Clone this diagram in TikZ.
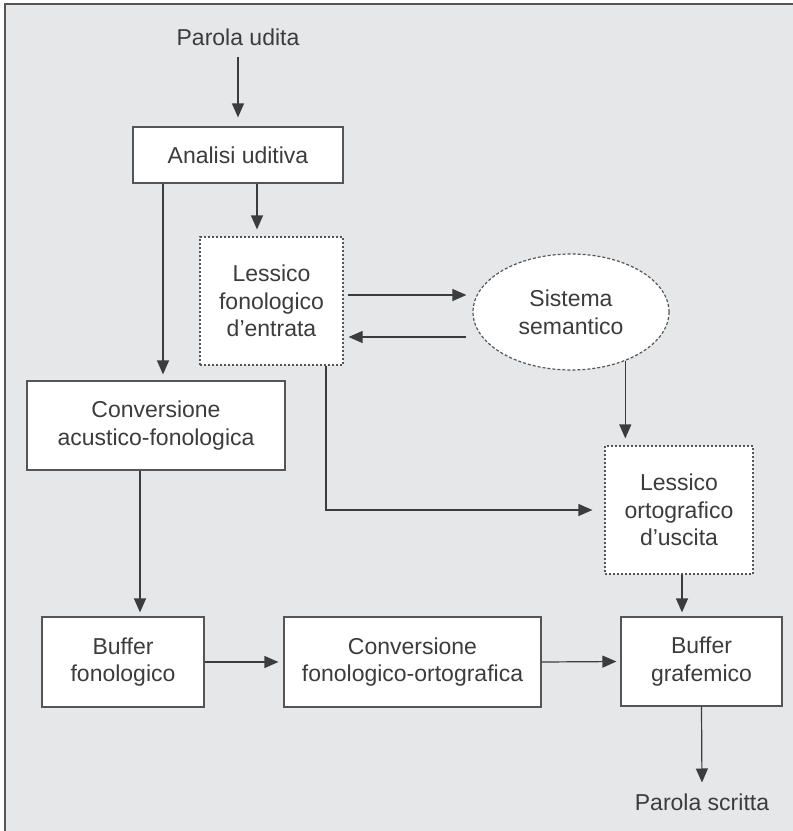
\documentclass[tikz,border=0pt]{standalone}
\usepackage{fontspec}
\setmainfont{Liberation Sans}
\usetikzlibrary{arrows.meta,shapes.geometric}
\definecolor{sfondo}{HTML}{E6E7E9}
\definecolor{testo}{HTML}{3C3C3C}
\definecolor{bordo}{HTML}{555555}
\begin{document}
\begin{tikzpicture}[x=0.5pt,y=-0.5pt,
  font=\fontsize{11.5}{13.8}\selectfont, text=testo,
  blocco/.style={draw=bordo, fill=white, line width=0.6pt, align=center, inner sep=0pt},
  lessico/.style={blocco, draw=bordo, dash pattern=on 1pt off 1pt},
  freccia/.style={draw=testo, line width=0.6pt, -{Triangle[length=7pt,width=6pt]}, shorten >=3pt}]
\useasboundingbox (0,0) rectangle (793,831);
\draw[fill=sfondo, draw=bordo, line width=0.8pt] (5,4) rectangle (796,834);
% nodi
\node (ingresso) at (238,37) {Parola udita};
\node[blocco, minimum width=105pt, minimum height=28pt] (analisi) at (238,155) {Analisi uditiva};
\node[lessico, minimum width=71.5pt, minimum height=64pt] (lfe) at (271.5,301) {Lessico\\fonologico\\d’entrata};
\node[ellipse, draw=bordo, fill=white, line width=0.6pt, dash pattern=on 1.5pt off 1pt, align=center,
  minimum width=98pt, minimum height=58pt, inner sep=0pt] (sem) at (571,312) {Sistema\\semantico};
\node[blocco, minimum width=129pt, minimum height=44.5pt] (caf) at (156,425.5) {Conversione\\acustico-fonologica};
\node[lessico, minimum width=74pt, minimum height=64pt] (lou) at (679,510) {Lessico\\ortografico\\d’uscita};
\node[blocco, minimum width=81pt, minimum height=45pt] (bfo) at (123,662) {Buffer\\fonologico};
\node[blocco, minimum width=128.5pt, minimum height=45pt] (cfo) at (412.5,662) {Conversione\\fonologico-ortografica};
\node[blocco, minimum width=80.5pt, minimum height=44.5pt] (bgr) at (701.5,661.5) {Buffer\\grafemico};
\node (uscita) at (702,802) {Parola scritta};
% frecce
\draw[freccia, shorten <=2pt, shorten >=4.5pt] (ingresso.south) -- (analisi.north);
\draw[freccia] ([xshift=-37.5pt]analisi.south) -- ([xshift=-37.5pt]analisi.south |- caf.north);
\draw[freccia, shorten >=3.5pt] ([xshift=9.5pt]analisi.south) -- ([xshift=9.5pt]analisi.south |- lfe.north);
\draw[freccia, shorten <=2pt] ([yshift=3pt]lfe.east) -- ([yshift=3pt]lfe.east -| sem.west);
\draw[freccia, shorten <=3pt, shorten >=2.5pt] ([yshift=-12.5pt]sem.west) -- ([yshift=-12.5pt]sem.west -| lfe.east);
\draw[freccia, shorten >=3.5pt] (sem.-42) -- (sem.-42 |- lou.north);
\draw[freccia, shorten >=6pt] ([xshift=27.25pt]lfe.south) |- (lou.west);
\draw[freccia, shorten >=2pt] ([xshift=-8pt]caf.south) -- ([xshift=-8pt]caf.south |- bfo.north);
\draw[freccia, shorten >=2.5pt] (bfo.east) -- (cfo.west);
\draw[freccia, shorten >=2pt] (cfo.east) -- (bgr.west);
\draw[freccia, shorten >=2pt] ([xshift=1.5pt]lou.south) -- ([xshift=1.5pt]lou.south |- bgr.north);
\draw[freccia, shorten >=2pt] (bgr.south) -- (uscita.north);
\end{tikzpicture}
\end{document}
